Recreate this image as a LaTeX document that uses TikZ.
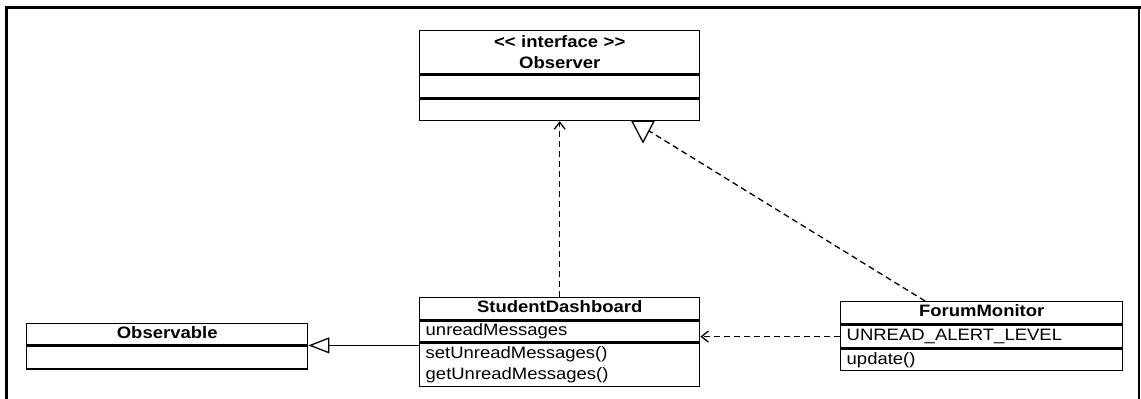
\documentclass[tikz,border=0pt]{standalone}
\usepackage{fontspec}
\newfontfamily\umlfont{Liberation Sans}[FakeStretch=1.12]
\usetikzlibrary{arrows.meta}
\begin{document}
\begin{tikzpicture}[x=1pt,y=-1pt,
  cellbase/.style={draw, line width=1.4pt, inner xsep=6pt, inner ysep=0pt, anchor=north west,
    font=\umlfont\fontsize{16.5}{21}\selectfont},
  cell/.style={cellbase, text height=12pt, text depth=4pt},
  cellm/.style={cellbase},
  dashp/.style={dash pattern=on 6pt off 4pt},
  dep/.style={line width=1.3pt, dashp, -{Straight Barb[length=7pt,width=11pt,line width=1.3pt]}},
  gen/.style={line width=1.3pt, -{Triangle[open,length=21pt,width=16pt,line width=1.3pt]}},
  frameline/.style={line cap=butt}
]
\useasboundingbox (0,0) rectangle (1141,399);
% frame
\draw[frameline, line width=3.5pt] (5,7.5) -- (1141,7.5);
\draw[frameline, line width=3pt] (6.5,6) -- (6.5,399);
\draw[frameline, line width=1.6pt] (1138.75,7) -- (1138.75,399);

% Observer
\node[cellm, align=center, text width=268pt, minimum height=43pt] (obsH) at (419,30)
  {\bfseries << interface >>\\Observer};
\node[cell, minimum width=280pt, minimum height=23pt] (obsA) at (obsH.south west) {};
\node[cell, minimum width=280pt, minimum height=21pt] (obsM) at (obsA.south west) {};

% StudentDashboard
\node[cell, minimum width=280pt, minimum height=22pt] (sdH) at (419,297) {\bfseries StudentDashboard};
\node[cell, align=left, text width=268pt, minimum height=21pt] (sdA) at (sdH.south west) {unreadMessages};
\node[cellm, align=left, text width=268pt, minimum height=43pt] (sdM) at (sdA.south west)
  {setUnreadMessages()\\getUnreadMessages()};

% Observable
\node[cell, minimum width=281pt, minimum height=21pt] (oblH) at (26,323) {\bfseries Observable};
\node[cell, minimum width=281pt, minimum height=23pt] (oblA) at (oblH.south west) {};

% ForumMonitor
\node[cell, minimum width=282pt, minimum height=22pt] (fmH) at (840,301) {\bfseries ForumMonitor};
\node[cell, align=left, text width=270pt, minimum height=23pt] (fmA) at (fmH.south west) {UNREAD\_ALERT\_LEVEL};
\node[cell, align=left, text width=270pt, minimum height=21pt] (fmM) at (fmA.south west) {update()};

% connectors
\draw[dep] (sdH.north) -- (obsM.south);
\draw[dep] (fmA.west) -- (fmA.west -| sdA.east);
\draw[gen] (oblH.south east -| sdM.west) -- (oblH.south east);

\coordinate (rt) at ([xshift=224pt]obsM.south west);
\draw[line width=1.3pt, dashp] ([xshift=85pt]fmH.north west) -- ([yshift=-6pt]rt);
\draw[line width=1.3pt, fill=white, line join=miter] ([xshift=-11pt]rt) -- ([xshift=11pt]rt) -- ([yshift=-21pt]rt) -- cycle;
\end{tikzpicture}
\end{document}
